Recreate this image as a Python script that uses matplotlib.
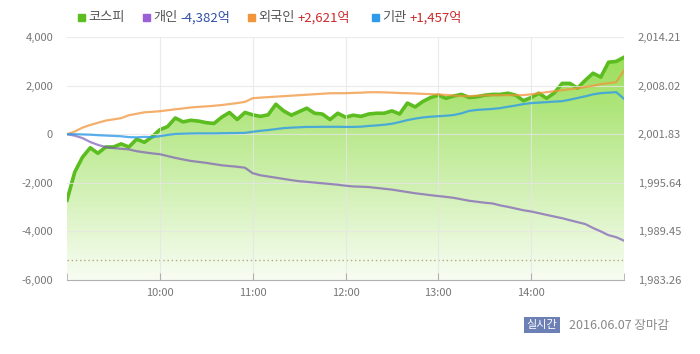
import numpy as np
import pandas as pd
import matplotlib
matplotlib.use("Agg")
import matplotlib.pyplot as plt
import matplotlib.dates as mdates
from matplotlib.colors import LinearSegmentedColormap

plt.rcParams['font.family'] = ['Noto Sans CJK KR', 'DejaVu Sans']

# 5-minute grid, 09:00 - 15:00
times = pd.date_range('2016-06-07 09:00', '2016-06-07 15:00', freq='5min')

# KOSPI index (right axis)
kospi = [1993.42, 1997.0, 1998.9, 2000.1, 1999.4, 2000.2, 2000.2, 2000.6, 2000.2, 2001.2,
         2000.8, 2001.5, 2002.4, 2002.8, 2003.9, 2003.4, 2003.6, 2003.5, 2003.3, 2003.2,
         2004.0, 2004.6, 2003.7, 2004.6, 2004.3, 2004.1, 2004.3, 2005.65, 2004.8, 2004.25,
         2004.7, 2005.14, 2004.5, 2004.4, 2003.7, 2004.5, 2004.0, 2004.25, 2004.1, 2004.4,
         2004.5, 2004.5, 2004.8, 2004.4, 2005.8, 2005.3, 2006.0, 2006.5, 2006.8, 2006.4,
         2006.7, 2006.9, 2006.5, 2006.6, 2006.8, 2006.9, 2006.9, 2007.05, 2006.8, 2006.1,
         2006.5, 2007.05, 2006.4, 2007.1, 2008.3, 2008.3, 2007.7, 2008.7, 2009.6, 2009.1,
         2011.0, 2011.1, 2011.63]

# net buying (억원, left axis)
individual = [0, -60, -160, -320, -440, -530, -570, -600, -625, -700,
              -745, -790, -823, -900, -975, -1040, -1100, -1140, -1180, -1230,
              -1280, -1310, -1340, -1380, -1605, -1690, -1740, -1790, -1840, -1890,
              -1934, -1960, -1990, -2020, -2050, -2080, -2120, -2150, -2160, -2175,
              -2210, -2245, -2280, -2330, -2380, -2430, -2469, -2510, -2545, -2580,
              -2620, -2680, -2740, -2780, -2820, -2850, -2930, -2990, -3060, -3130,
              -3180, -3250, -3320, -3390, -3457, -3540, -3620, -3700, -3860, -4000,
              -4156, -4238, -4382]
foreign = [0, 110, 270, 380, 470, 560, 610, 660, 780, 840,
           900, 920, 946, 985, 1025, 1060, 1100, 1125, 1145, 1170,
           1200, 1240, 1280, 1330, 1481, 1505, 1525, 1545, 1565, 1585,
           1605, 1625, 1645, 1665, 1685, 1687, 1687, 1700, 1710, 1725,
           1728, 1720, 1710, 1695, 1687, 1675, 1660, 1648, 1635, 1615,
           1590, 1570, 1565, 1585, 1600, 1605, 1605, 1605, 1605, 1610,
           1640, 1687, 1730, 1770, 1811, 1850, 1890, 1940, 1995, 2060,
           2100, 2140, 2621]
institution = [0, 0, -10, -20, -40, -55, -70, -85, -120, -130,
               -110, -125, -80, -30, 10, 20, 30, 35, 35, 35,
               40, 45, 50, 55, 100, 140, 170, 210, 250, 270,
               285, 300, 300, 305, 305, 305, 300, 300, 310, 340,
               360, 390, 430, 500, 580, 640, 690, 720, 740, 760,
               790, 860, 960, 1000, 1020, 1040, 1075, 1130, 1180, 1240,
               1280, 1300, 1320, 1340, 1360, 1420, 1490, 1560, 1640, 1690,
               1710, 1730, 1457]

left_ticks = [-6000, -4000, -2000, 0, 2000, 4000]
right_ticks = [1983.26, 1989.45, 1995.64, 2001.83, 2008.02, 2014.21]
prev_close = 1985.84

fig = plt.figure(figsize=(7, 3.54), dpi=100)
ax = fig.add_axes([67 / 700, 1 - 280 / 354, (624 - 67) / 700, (280 - 37) / 354])
ax2 = ax.twinx()
# flows drawn above the kospi area
ax.set_zorder(ax2.get_zorder() + 1)
ax.patch.set_visible(False)

x = mdates.date2num(times)

# kospi area with vertical gradient
cmap = LinearSegmentedColormap.from_list('g', ['#f8fdf3', '#92dc4c'])
grad = np.linspace(0, 1, 256).reshape(-1, 1)
im = ax2.imshow(grad, extent=[x[0], x[-1], right_ticks[0], right_ticks[-1]],
                aspect='auto', cmap=cmap, origin='lower', zorder=1)
poly = ax2.fill_between(x, kospi, right_ticks[0], facecolor='none', edgecolor='none')
im.set_clip_path(poly.get_paths()[0], ax2.transData)
ax2.plot(x, kospi, color='#5bbd1f', lw=2.6, zorder=3, solid_joinstyle='round')
ax2.axhline(prev_close, color='#b5a88a', lw=1, ls=(0, (1, 2)), zorder=2)

ax.plot(x, individual, color='#7d5cb8', lw=1.6, alpha=0.7, zorder=4)
ax.plot(x, foreign, color='#f0953a', lw=1.6, alpha=0.75, zorder=4)
ax.plot(x, institution, color='#2f9be8', lw=1.6, alpha=0.8, zorder=4)

ax.set_xlim(x[0], x[-1])
ax2.set_xlim(x[0], x[-1])
ax.set_ylim(-6000, 4000)
ax2.set_ylim(right_ticks[0], right_ticks[-1])

ax.set_yticks(left_ticks)
ax.set_yticklabels([f"{v:,}" for v in left_ticks])
ax2.set_yticks(right_ticks)
ax2.set_yticklabels([f"{v:,.2f}" for v in right_ticks])

ax.xaxis.set_major_locator(mdates.HourLocator(byhour=[10, 11, 12, 13, 14]))
ax.xaxis.set_major_formatter(mdates.DateFormatter('%H:%M'))
ax.set_xticks([x[0], x[-1]], minor=True)
ax.grid(True, color='#e6e6e6', lw=0.8, alpha=0.8)
ax.set_axisbelow(False)
for l in ax.get_xgridlines() + ax.get_ygridlines():
    l.set_zorder(2)

for a in (ax, ax2):
    for s in a.spines.values():
        s.set_visible(False)
ax.spines['bottom'].set_visible(True)
ax.spines['bottom'].set_color('#b0b0b0')

ax.tick_params(axis='y', length=0, pad=10, labelsize=8, labelcolor='#777777')
ax2.tick_params(axis='y', length=0, pad=10, labelsize=8, labelcolor='#777777')
ax.tick_params(axis='x', which='both', direction='in', length=5, color='#b0b0b0',
               pad=6, labelsize=8, labelcolor='#777777')
ax2.tick_params(axis='x', which='both', length=0)

# legend header
fam = ['Noto Sans CJK KR', 'DejaVu Sans']
legend = [(78, '#5bbd1f', '코스피', None, None),
          (143, '#9a60d8', '개인', '-4,382억', '#2f4fa8'),
          (248, '#f0953a', '외국인', '+2,621억', '#cc2a2a'),
          (372, '#2f9be8', '기관', '+1,457억', '#cc2a2a')]
for lx, c, name, val, vc in legend:
    fig.patches.append(plt.Rectangle((lx / 700, 1 - 21 / 354), 7 / 700, 7 / 354,
                                     transform=fig.transFigure, color=c))
    t = fig.text((lx + 10) / 700, 1 - 18 / 354, name, color='#555555', fontsize=9.5,
                 family=fam, va='center')
    if val:
        fig.canvas.draw()
        bb = t.get_window_extent()
        fig.text(bb.x1 / 700 + 3 / 700, 1 - 18 / 354, val, color=vc, fontsize=9.5,
                 family=fam, va='center')

fig.text(542 / 700, 1 - 325 / 354, '실시간', color='white', fontsize=8, family=fam,
         ha='center', va='center',
         bbox=dict(boxstyle='square,pad=0.25', facecolor='#6d80b6', edgecolor='none'))
fig.text(569 / 700, 1 - 325 / 354, '2016.06.07 장마감', color='#888888', fontsize=9,
         family=fam, va='center')

fig.savefig('out.png', dpi=100)
